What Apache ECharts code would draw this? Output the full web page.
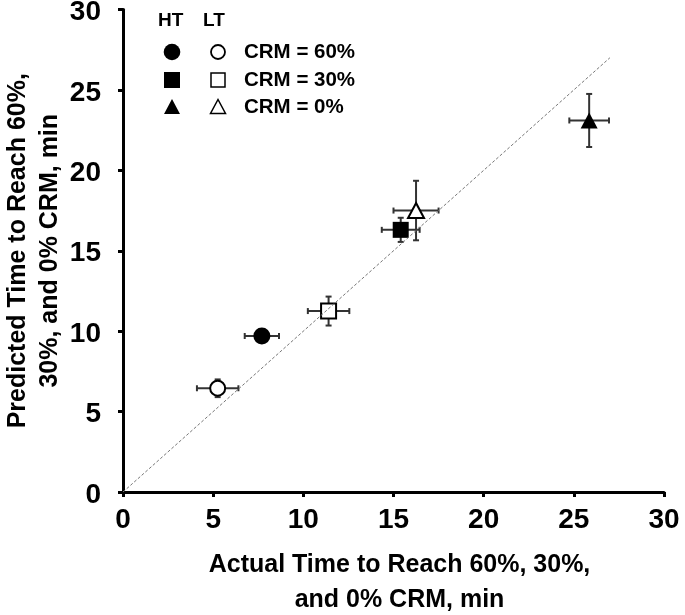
<!DOCTYPE html>
<html>
<head>
<meta charset="utf-8">
<script src="https://cdn.jsdelivr.net/npm/echarts@6/dist/echarts.min.js"></script>
<style>
html,body{margin:0;padding:0;background:#fff;}
#chart{width:685px;height:615px;}
</style>
</head>
<body>
<div id="chart"></div>
<script>
// ---- data ----
const crmLevels = ['CRM = 60%', 'CRM = 30%', 'CRM = 0%'];
const htActual = [7.7, 15.4, 25.85];
const htActualErr = [0.95, 1.05, 1.1];
const htPredicted = [9.7, 16.3, 23.1];
const htPredictedErr = [0.3, 0.75, 1.65];
const ltActual = [5.25, 11.4, 16.25];
const ltActualErr = [1.15, 1.15, 1.25];
const ltPredicted = [6.45, 11.25, 17.5];
const ltPredictedErr = [0.55, 0.9, 1.85];
const identityLine = [[0, 0], [27, 27]];
const axisTicks = [0, 5, 10, 15, 20, 25, 30];

// ---- build ----
const shapes = ['circle', 'rect', 'triangle'];
const filledSizes = [17, 16, [17, 16]];
const openSizes = [15, 15, [16, 15]];
function points(ax, pr, filled) {
  return ax.map((x, i) => ({
    value: [x, pr[i]],
    name: crmLevels[i],
    symbol: shapes[i],
    symbolSize: filled ? filledSizes[i] : openSizes[i]
  }));
}
function errData(ax, axe, pr, pre) {
  return ax.map((x, i) => [x, pr[i], axe[i], pre[i]]);
}
const errAll = errData(htActual, htActualErr, htPredicted, htPredictedErr)
  .concat(errData(ltActual, ltActualErr, ltPredicted, ltPredictedErr));

const font = 'Liberation Sans, Arial, sans-serif';
const chart = echarts.init(document.getElementById('chart'));

function errRender(params, api) {
  const x = api.value(0), y = api.value(1), ex = api.value(2), ey = api.value(3);
  const l = api.coord([x - ex, y]), r = api.coord([x + ex, y]);
  const t = api.coord([x, y + ey]), b = api.coord([x, y - ey]);
  const c = 3;
  const st = {stroke: '#333', lineWidth: 2};
  return {
    type: 'group',
    children: [
      {type: 'line', shape: {x1: l[0], y1: l[1], x2: r[0], y2: r[1]}, style: st},
      {type: 'line', shape: {x1: l[0], y1: l[1] - c, x2: l[0], y2: l[1] + c}, style: st},
      {type: 'line', shape: {x1: r[0], y1: r[1] - c, x2: r[0], y2: r[1] + c}, style: st},
      {type: 'line', shape: {x1: t[0], y1: t[1], x2: b[0], y2: b[1]}, style: st},
      {type: 'line', shape: {x1: t[0] - c, y1: t[1], x2: t[0] + c, y2: t[1]}, style: st},
      {type: 'line', shape: {x1: b[0] - c, y1: b[1], x2: b[0] + c, y2: b[1]}, style: st}
    ]
  };
}

// legend drawn as graphic decoration
const legendG = [];
const lx1 = 172, lx2 = 218, ly = [52, 80, 107];
legendG.push({type: 'text', left: 158, top: 11, style: {text: 'HT', font: 'bold 19px ' + font, fill: '#000'}});
legendG.push({type: 'text', left: 203, top: 11, style: {text: 'LT', font: 'bold 19px ' + font, fill: '#000'}});
crmLevels.forEach((lab, i) => {
  const y = ly[i];
  legendG.push({type: 'text', x: 244, y: y, style: {text: lab, font: 'bold 20.5px ' + font, fill: '#000', verticalAlign: 'middle', align: 'left'}});
  if (i === 0) {
    legendG.push({type: 'circle', shape: {cx: lx1, cy: y, r: 8.3}, style: {fill: '#000'}});
    legendG.push({type: 'circle', shape: {cx: lx2, cy: y, r: 7}, style: {fill: '#fff', stroke: '#000', lineWidth: 1.8}});
  } else if (i === 1) {
    legendG.push({type: 'rect', shape: {x: lx1 - 8, y: y - 8, width: 16, height: 16}, style: {fill: '#000'}});
    legendG.push({type: 'rect', shape: {x: lx2 - 7, y: y - 7, width: 14, height: 14}, style: {fill: '#fff', stroke: '#000', lineWidth: 1.5}});
  } else {
    legendG.push({type: 'polygon', shape: {points: [[lx1, y - 8], [lx1 - 8, y + 7], [lx1 + 8, y + 7]]}, style: {fill: '#000'}});
    legendG.push({type: 'polygon', shape: {points: [[lx2, y - 7.5], [lx2 - 7.5, y + 6.5], [lx2 + 7.5, y + 6.5]]}, style: {fill: '#fff', stroke: '#000', lineWidth: 1.5}});
  }
});

const axisCommon = {
  type: 'value', min: 0, max: 30, interval: 5,
  axisLine: {show: true, lineStyle: {color: '#000', width: 3}},
  axisTick: {show: true, inside: false, length: 5, lineStyle: {color: '#000', width: 3}},
  splitLine: {show: false},
  nameLocation: 'middle',
  nameMoveOverlap: false
};

chart.setOption({
  animation: false,
  backgroundColor: '#fff',
  grid: {left: 123, right: 21, top: 9.5, bottom: 123, containLabel: false, outerBoundsMode: 'none'},
  xAxis: Object.assign({}, axisCommon, {
    name: 'Actual Time to Reach 60%, 30%,\nand 0% CRM, min',
    nameGap: 56,
    nameTextStyle: {fontFamily: font, fontWeight: 'bold', fontSize: 25, color: '#000', lineHeight: 35, padding: [0, 0, 0, 12]},
    axisLabel: {fontFamily: font, fontWeight: 'bold', fontSize: 28, color: '#000', margin: 14,
      formatter: v => axisTicks.includes(v) ? String(v) : ''}
  }),
  yAxis: Object.assign({}, axisCommon, {
    name: 'Predicted Time to Reach 60%,\n30%, and 0% CRM, min',
    nameGap: 57,
    nameTextStyle: {fontFamily: font, fontWeight: 'bold', fontSize: 25, color: '#000', lineHeight: 32},
    axisLabel: {fontFamily: font, fontWeight: 'bold', fontSize: 28, color: '#000', margin: 22,
      verticalAlign: 'top', lineHeight: 6,
      formatter: v => axisTicks.includes(v) ? String(v) : ''}
  }),
  graphic: legendG,
  series: [
    {
      type: 'custom', name: 'error', renderItem: errRender, data: errAll, z: 2,
      encode: {x: 0, y: 1}, silent: true
    },
    {
      type: 'scatter', name: 'HT', data: points(htActual, htPredicted, true), z: 4,
      itemStyle: {color: '#000', opacity: 1}
    },
    {
      type: 'scatter', name: 'LT', data: points(ltActual, ltPredicted, false), z: 4,
      itemStyle: {color: '#fff', borderColor: '#000', borderWidth: 2, opacity: 1}
    },
    {
      type: 'line', name: 'identity', data: identityLine, symbol: 'none', z: 5, silent: true,
      lineStyle: {color: '#777', width: 1, type: [3, 2]}
    }
  ]
});
</script>
</body>
</html>
